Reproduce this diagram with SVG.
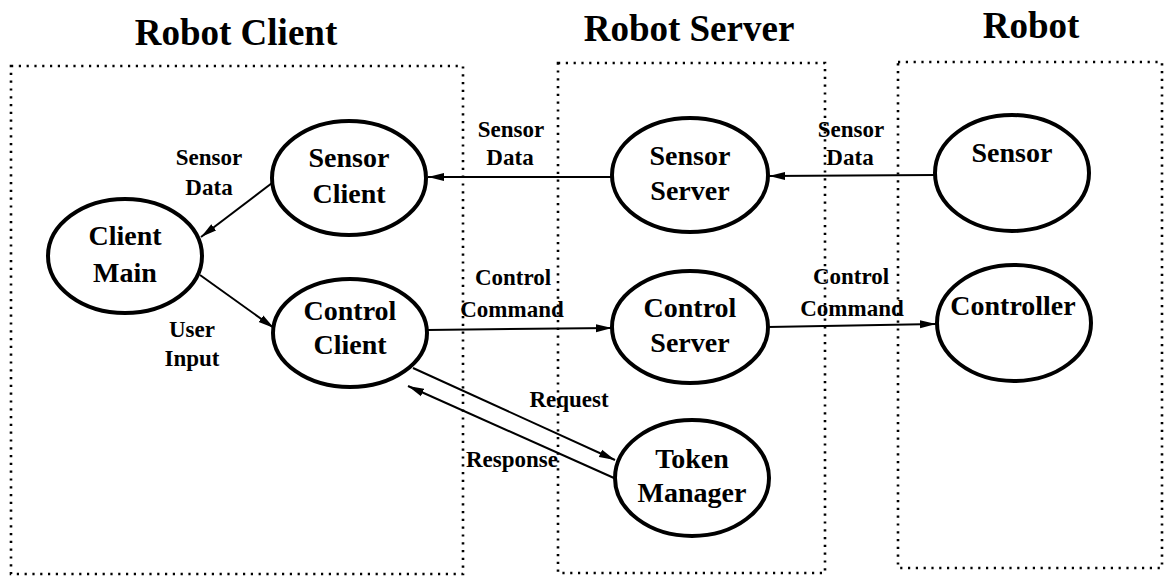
<svg xmlns="http://www.w3.org/2000/svg" width="1165" height="576" viewBox="0 0 1165 576">
  <style>
    .title { font-family: "Liberation Serif", "Times New Roman", serif; font-weight: bold; font-size: 37px; fill: #000; text-anchor: middle; }
    .node ellipse { fill: #fff; stroke: #000; stroke-width: 4; }
    .node text { font-family: "Liberation Serif", "Times New Roman", serif; font-weight: bold; font-size: 28px; fill: #000; text-anchor: middle; }
    .label { font-family: "Liberation Serif", "Times New Roman", serif; font-weight: bold; font-size: 23px; fill: #000; text-anchor: middle; }
    .box { fill: none; stroke: #000; stroke-width: 2.6; stroke-dasharray: 2.2 5.6; }
    .edge { fill: none; stroke: #000; stroke-width: 2; }
  </style>
  <defs>
    <marker id="arrow" viewBox="0 0 16 10" refX="16" refY="5" markerWidth="16" markerHeight="10" markerUnits="userSpaceOnUse" orient="auto">
      <path d="M0,1 L16,5 L0,9 Z" fill="#000"/>
    </marker>
  </defs>
  <rect width="1165" height="576" fill="#fff"/>

  <!-- section titles -->
  <g id="titles">
    <text class="title" x="236" y="45">Robot Client</text>
    <text class="title" x="689" y="41">Robot Server</text>
    <text class="title" x="1031" y="38">Robot</text>
  </g>

  <!-- dotted section frames -->
  <g id="frames">
    <rect id="frame-client" class="box" x="11" y="66" width="452" height="508"/>
    <rect id="frame-server" class="box" x="558" y="63" width="267" height="510"/>
    <rect id="frame-robot" class="box" x="898" y="62" width="264" height="506"/>
  </g>

  <!-- connectors -->
  <g id="connectors">
    <line class="edge" x1="935" y1="175" x2="769" y2="176" marker-end="url(#arrow)"/>
    <line class="edge" x1="612" y1="177" x2="428" y2="177" marker-end="url(#arrow)"/>
    <line class="edge" x1="272" y1="183" x2="201" y2="237" marker-end="url(#arrow)"/>
    <line class="edge" x1="200" y1="275" x2="274" y2="328" marker-end="url(#arrow)"/>
    <line class="edge" x1="427" y1="330" x2="612" y2="328" marker-end="url(#arrow)"/>
    <line class="edge" x1="768" y1="327" x2="936" y2="324" marker-end="url(#arrow)"/>
    <line class="edge" x1="413" y1="368" x2="615" y2="460" marker-end="url(#arrow)"/>
    <line class="edge" x1="614" y1="478" x2="408" y2="386" marker-end="url(#arrow)"/>
  </g>

  <!-- connector labels -->
  <g id="edge-labels">
    <text class="label" x="209" y="165">Sensor</text>
    <text class="label" x="209" y="195">Data</text>
    <text class="label" x="192" y="337">User</text>
    <text class="label" x="192" y="366">Input</text>
    <text class="label" x="511" y="137">Sensor</text>
    <text class="label" x="510" y="165">Data</text>
    <text class="label" x="851" y="137">Sensor</text>
    <text class="label" x="850" y="165">Data</text>
    <text class="label" x="513" y="285">Control</text>
    <text class="label" x="512" y="317">Command</text>
    <text class="label" x="851" y="284">Control</text>
    <text class="label" x="852" y="316">Command</text>
    <text class="label" x="569" y="407">Request</text>
    <text class="label" x="512" y="467">Response</text>
  </g>

  <!-- nodes -->
  <g id="sensor-client" class="node">
    <ellipse cx="349" cy="178" rx="77" ry="57"/>
    <text x="349" y="167">Sensor</text>
    <text x="349" y="203">Client</text>
  </g>
  <g id="client-main" class="node">
    <ellipse cx="125" cy="256" rx="77" ry="57"/>
    <text x="125" y="245">Client</text>
    <text x="125" y="282">Main</text>
  </g>
  <g id="control-client" class="node">
    <ellipse cx="350" cy="333" rx="77" ry="54"/>
    <text x="350" y="320">Control</text>
    <text x="350" y="354">Client</text>
  </g>
  <g id="sensor-server" class="node">
    <ellipse cx="690" cy="175" rx="78" ry="57"/>
    <text x="690" y="165">Sensor</text>
    <text x="690" y="200">Server</text>
  </g>
  <g id="control-server" class="node">
    <ellipse cx="690" cy="327" rx="78" ry="56"/>
    <text x="690" y="317">Control</text>
    <text x="690" y="352">Server</text>
  </g>
  <g id="token-manager" class="node">
    <ellipse cx="692" cy="478" rx="77" ry="58"/>
    <text x="692" y="468">Token</text>
    <text x="692" y="502">Manager</text>
  </g>
  <g id="sensor" class="node">
    <ellipse cx="1012" cy="173" rx="77" ry="58"/>
    <text x="1012" y="162">Sensor</text>
  </g>
  <g id="controller" class="node">
    <ellipse cx="1014" cy="323" rx="77" ry="58"/>
    <text x="1013" y="315">Controller</text>
  </g>
</svg>
